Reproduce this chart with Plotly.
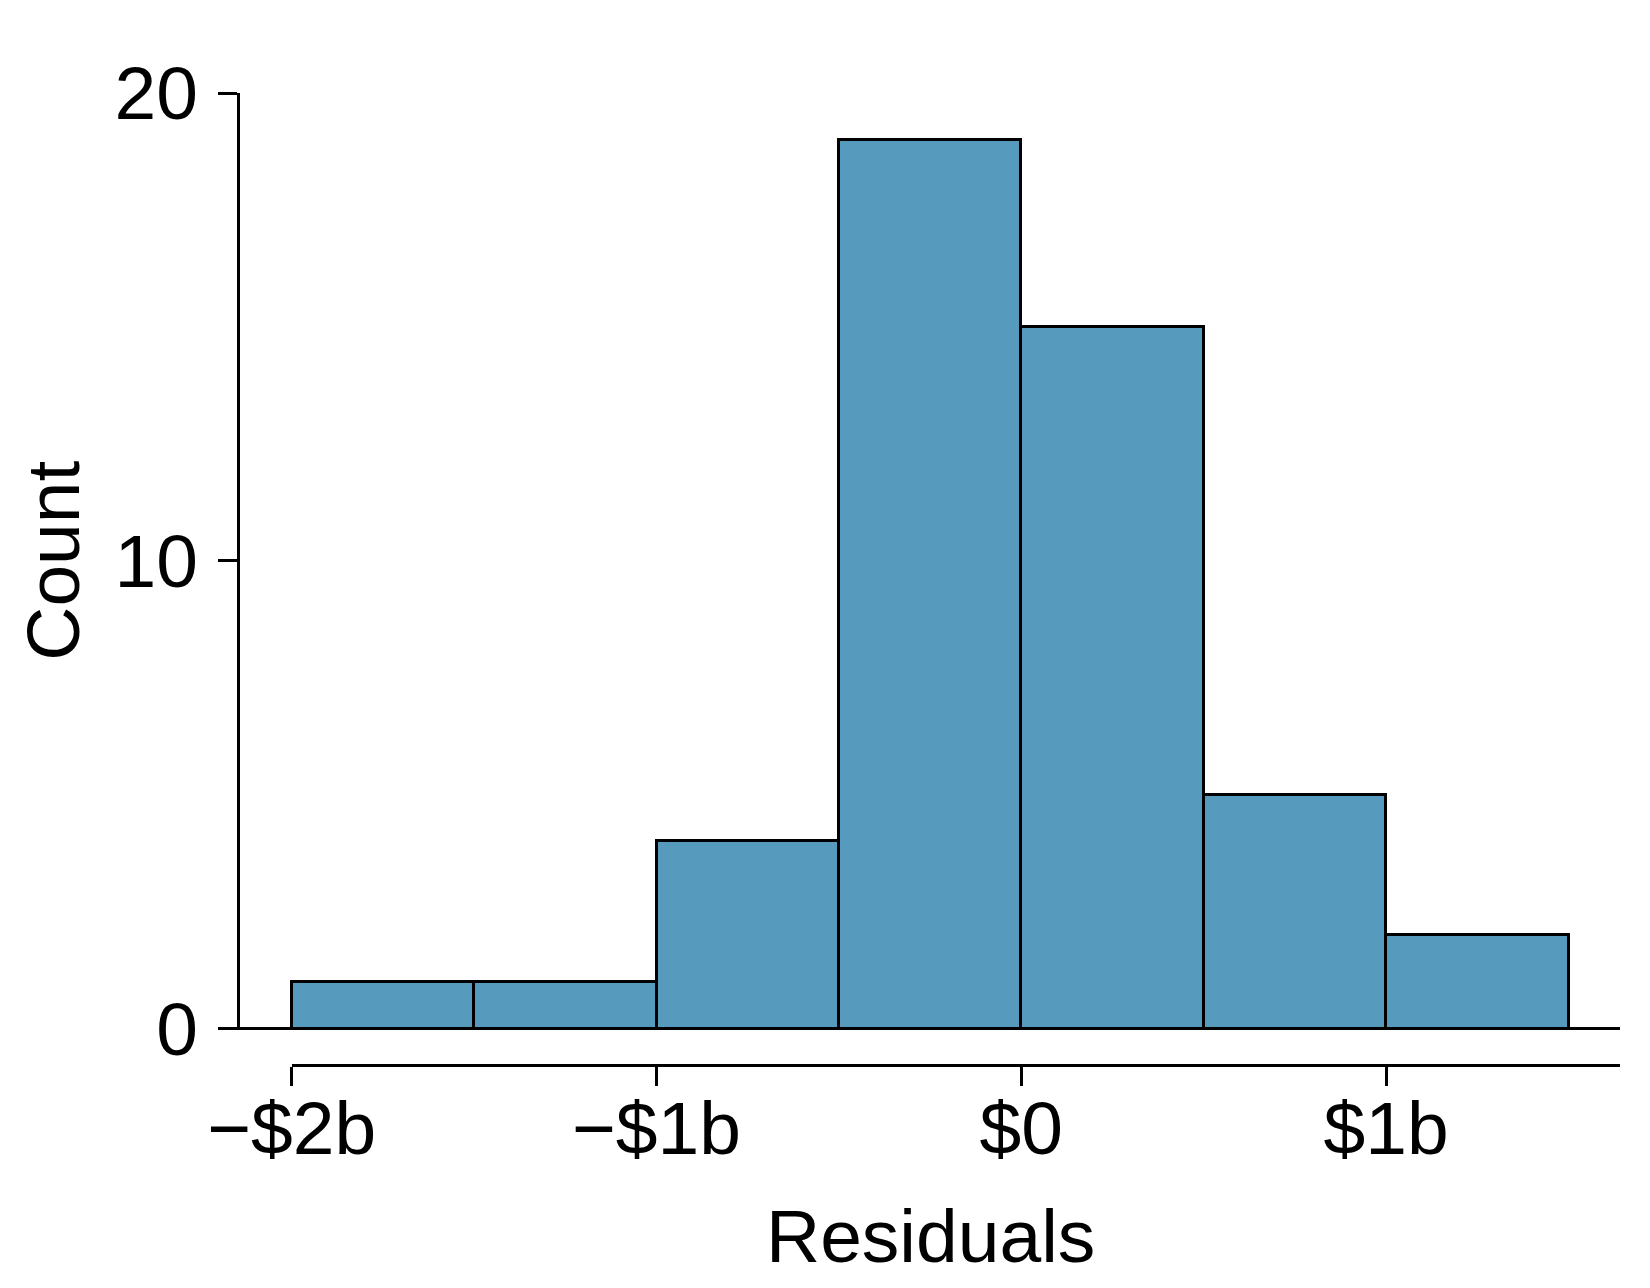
import plotly.graph_objects as go

# Data
bin_centers = [-1.75, -1.25, -0.75, -0.25, 0.25, 0.75, 1.25]
counts = [1, 1, 4, 19, 15, 5, 2]
bin_width = 0.5
x_tickvals = [-2, -1, 0, 1]
x_ticktext = ["\u2212$2b", "\u2212$1b", "$0", "$1b"]
y_tickvals = [0, 10, 20]

W, H = 1650, 1288
ML, MR, MT, MB = 240, 30, 93, 223
plot_w = W - ML - MR
plot_h = H - MT - MB
y_dom0 = ((H - MB) - 1028.5) / plot_h

FONT = "Liberation Sans, Arial, sans-serif"
FS = 75
LW = 3
BAR_COLOR = "#569BBD"

fig = go.Figure()
fig.add_trace(go.Bar(
    x=bin_centers, y=counts, width=bin_width,
    marker=dict(color=BAR_COLOR, line=dict(color="black", width=LW)),
    xaxis="x", yaxis="y", showlegend=False, hoverinfo="skip",
))
# helper trace to attach the lower (labelled) x axis
fig.add_trace(go.Scatter(x=[], y=[], xaxis="x2", yaxis="y", showlegend=False))

x_lo = -2 - (291.7 - 240) / 364.8
x_hi = 1.641
x2_dom0 = (291.7 - 240) / plot_w

fig.update_layout(
    width=W, height=H, autosize=False,
    margin=dict(l=ML, r=MR, t=MT, b=MB, pad=0),
    plot_bgcolor="rgba(0,0,0,0)", paper_bgcolor="white",
    font=dict(family=FONT, size=FS, color="black"),
    bargap=0,
    xaxis=dict(domain=[0, 1], range=[x_lo, x_hi], showline=False, showticklabels=False,
               ticks="", showgrid=False, zeroline=False),
    xaxis2=dict(domain=[x2_dom0, 1], range=[-2, x_hi], anchor="free", position=0,
                showline=True, linecolor="black", linewidth=LW,
                ticks="outside", ticklen=19, tickwidth=LW, tickcolor="black",
                tickvals=x_tickvals, ticktext=x_ticktext, ticklabelstandoff=-22,
                tickfont=dict(family=FONT, size=FS, color="black"),
                showgrid=False, zeroline=False),
    yaxis=dict(domain=[y_dom0, 1], range=[0, 20], showline=True, linecolor="black", linewidth=LW,
               ticks="outside", ticklen=19, tickwidth=LW, tickcolor="black",
               tickvals=y_tickvals, ticklabelstandoff=5,
               tickfont=dict(family=FONT, size=FS, color="black"),
               showgrid=False, zeroline=False),
    shapes=[dict(type="line", xref="paper", yref="paper",
                 x0=-19 / plot_w, x1=1, y0=y_dom0, y1=y_dom0,
                 line=dict(color="black", width=LW), layer="above")],
    annotations=[
        dict(text="Residuals", xref="paper", yref="paper", x=0.5, y=0,
             xanchor="center", yanchor="middle", showarrow=False,
             yshift=-((1236) - (H - MB)), font=dict(family=FONT, size=FS, color="black")),
        dict(text="Count", xref="paper", yref="paper", x=0, y=(y_dom0 + 1) / 2,
             xanchor="center", yanchor="middle", showarrow=False, textangle=-90,
             xshift=53 - ML, font=dict(family=FONT, size=FS, color="black")),
    ],
)

fig.write_html("out.html")
